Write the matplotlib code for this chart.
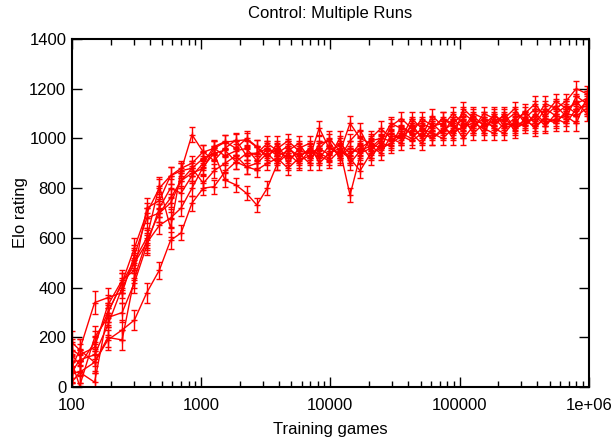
import numpy as np
import matplotlib.pyplot as plt
from matplotlib.ticker import FixedLocator, LogLocator, NullFormatter

plt.rcParams['font.family'] = ['Liberation Sans', 'DejaVu Sans']

# training games (shared by all runs)
games = [100, 115, 150, 190, 245, 305, 380, 475, 580, 700, 850,
         1040, 1260, 1530, 1860, 2250, 2700, 3250, 3900, 4700, 5700, 6900, 8200, 9800,
         11800, 14200, 17000, 20500, 24600, 29500, 35500, 42500, 51000, 61500, 74000, 89000,
         107000, 128000, 154000, 185000, 222000, 267000, 320000, 385000, 462000, 555000,
         667000, 800000, 960000]

# elo error (half width) per checkpoint
elo_err = [45, 45, 45, 40, 40, 40, 40, 35, 35, 30, 30,
           28, 28, 28, 28, 28, 28, 28, 28, 28, 28, 28, 28, 28,
           28, 28, 28, 28, 28, 28, 28, 28, 28, 28, 28, 28,
           28, 28, 28, 28, 28, 28, 28, 30, 30, 30,
           30, 30, 30]

run1 = [130, 90, 180, 300, 420, 560, 700, 800, 850, 870, 1015,
        945, 960, 985, 990, 995, 965, 930, 960, 990, 950, 940, 960, 935,
        980, 940, 960, 990, 1000, 1020, 1000, 1050, 1060, 1040, 1080, 1060,
        1100, 1070, 1060, 1090, 1070, 1100, 1080, 1120, 1100, 1150,
        1120, 1140, 1160]
run2 = [20, 60, 100, 190, 230, 270, 380, 470, 590, 620, 740,
        800, 806, 866, 906, 886, 873, 900, 920, 880, 920, 960, 930, 910,
        950, 920, 870, 940, 960, 980, 1010, 990, 1020, 1000, 1040, 1020,
        1050, 1060, 1040, 1020, 1060, 1050, 1070, 1050, 1080, 1070,
        1100, 1090, 1120]
run3 = [180, 150, 340, 360, 380, 530, 680, 700, 760, 830, 880,
        920, 940, 953, 906, 940, 940, 960, 930, 950, 980, 920, 1042, 960,
        940, 1061, 1000, 980, 960, 1050, 1080, 1040, 1010, 1090, 1050, 1100,
        1060, 1040, 1100, 1080, 1040, 1060, 1110, 1060, 1120, 1090,
        1080, 1170, 1140]
run4 = [60, 110, 130, 250, 400, 500, 580, 650, 680, 720, 800,
        886, 940, 833, 813, 779, 732, 800, 900, 940, 900, 950, 920, 970,
        930, 960, 940, 960, 1000, 990, 1020, 1000, 1040, 1020, 1000, 1040,
        1080, 1020, 1060, 1050, 1100, 1040, 1060, 1090, 1050, 1100,
        1130, 1100, 1150]
run5 = [100, 5, 200, 280, 300, 420, 570, 720, 800, 780, 850,
        900, 967, 987, 960, 1000, 967, 920, 980, 900, 960, 980, 900, 940,
        960, 772, 930, 1000, 1040, 1000, 980, 1060, 1000, 1060, 1020, 1080,
        1040, 1100, 1080, 1060, 1080, 1120, 1060, 1080, 1140, 1120,
        1150, 1200, 1180]
run6 = [150, 130, 160, 330, 430, 470, 720, 750, 850, 880, 900,
        947, 910, 960, 994, 930, 940, 980, 950, 920, 940, 900, 980, 990,
        920, 990, 1034, 950, 990, 1060, 1040, 1020, 1080, 1050, 1060, 1000,
        1120, 1080, 1020, 1100, 1050, 1080, 1100, 1140, 1080, 1060,
        1110, 1150, 1100]
run7 = [60, 60, 20, 300, 420, 510, 600, 810, 640, 870, 880,
        820, 870, 900, 930, 886, 900, 940, 900, 960, 930, 950, 940, 920,
        1000, 900, 950, 970, 940, 1010, 1000, 1080, 1040, 1000, 1030, 1060,
        1000, 1050, 1080, 1040, 1020, 1070, 1050, 1100, 1060, 1080,
        1060, 1120, 1130]
run8 = [80, 150, 100, 200, 190, 440, 590, 700, 740, 830, 860,
        880, 960, 930, 950, 960, 910, 960, 940, 970, 910, 930, 960, 1000,
        950, 930, 980, 920, 980, 970, 1050, 1020, 980, 1040, 1080, 1050,
        1030, 1090, 1050, 1070, 1090, 1030, 1080, 1040, 1090, 1130,
        1090, 1060, 1160]

runs = [run1, run2, run3, run4, run5, run6, run7, run8]

fig = plt.figure(figsize=(6.14, 4.37), dpi=100)
ax = fig.add_axes([0.117, 0.114, 0.842, 0.797])

for r in runs:
    ax.errorbar(games, r, yerr=elo_err, color='red', lw=1, marker='+', ms=5,
                elinewidth=1, capsize=2.5, capthick=1)

ax.set_xscale('log')
ax.set_xlim(100, 1e6)
ax.set_ylim(0, 1400)
ax.xaxis.set_major_locator(FixedLocator([100, 1000, 10000, 100000, 1000000]))
ax.set_xticklabels(['100', '1000', '10000', '100000', '1e+06'])
ax.xaxis.set_minor_locator(LogLocator(base=10, subs=np.arange(2, 10)))
ax.xaxis.set_minor_formatter(NullFormatter())
ax.set_yticks(range(0, 1401, 200))

ax.tick_params(which='both', direction='in', top=True, right=True, labelsize=12)
ax.tick_params(which='major', length=7, width=1)
ax.tick_params(which='minor', length=4, width=1)
ax.tick_params(axis='x', pad=8)
ax.tick_params(axis='y', pad=4)
for s in ax.spines.values():
    s.set_linewidth(1.5)

ax.set_xlabel('Training games', fontsize=12, labelpad=6)
ax.set_ylabel('Elo rating', fontsize=12, labelpad=1)
ax.set_title('Control: Multiple Runs', fontsize=12, pad=15)

fig.savefig('out.png', dpi=100)
